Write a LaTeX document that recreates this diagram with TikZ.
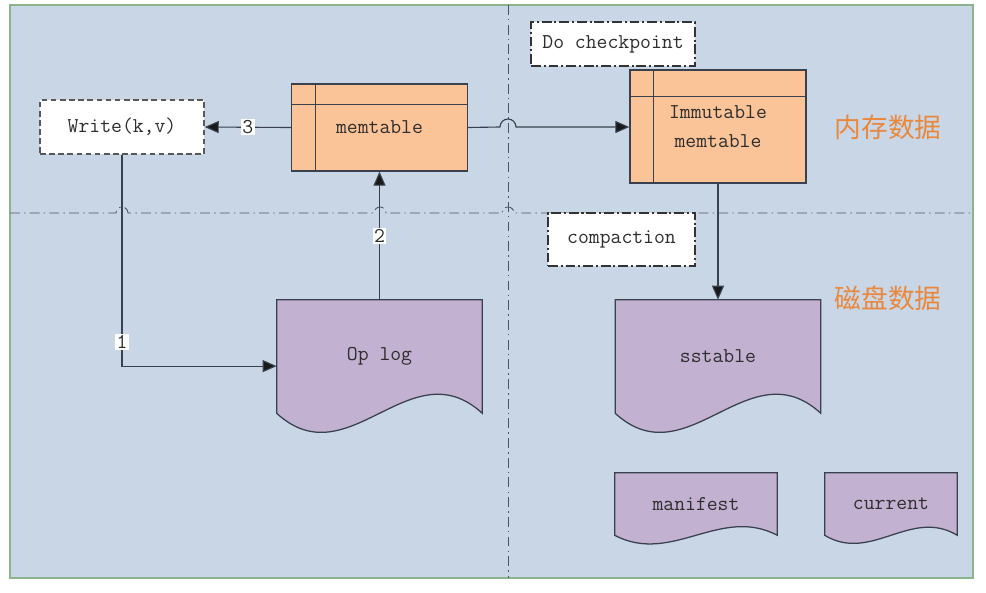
\documentclass[tikz,border=0pt]{standalone}
\usepackage{fontspec}
\newfontfamily\zhfont{Noto Sans CJK SC}
\usepackage{xcolor}
\usepackage{tikz}
\usetikzlibrary{
    arrows.meta,
    calc,
    backgrounds
}

\definecolor{framebg}{HTML}{C9D6E6}
\definecolor{frameline}{HTML}{8DB38D}
\definecolor{memfill}{HTML}{FAC498}
\definecolor{diskfill}{HTML}{C3B1D1}
\definecolor{inkline}{HTML}{38414D}
\definecolor{zhorange}{HTML}{E9883D}
\definecolor{txtgray}{HTML}{2E2E2E}

\newcommand{\docoutline}[2]{%
  \filldraw[docshape] (#1.south west) -- (#1.north west) -- (#1.north east) -- (#1.south east)
    .. controls ($(#1.south east)!0.35!(#1.south west)+(0,-#2)$)
    and ($(#1.south east)!0.65!(#1.south west)+(0,#2)$) .. (#1.south west) -- cycle;
}
\newcommand{\tablelines}[3]{%
  \draw[tabline] ([yshift=-#2]#1.north west) -- ([yshift=-#2]#1.north east);
  \draw[tabline] ([xshift=#3]#1.north west) -- ([xshift=#3]#1.south west);
}

\begin{document}
\begin{tikzpicture}[
      x=0.025cm, y=-0.025cm,
      font=\ttfamily\fontsize{15}{18}\selectfont,
      memtbl/.style={draw=inkline, fill=memfill, line width=0.9pt, align=center, text=txtgray, inner sep=0pt},
      diskdoc/.style={inner sep=0pt, align=center, text=txtgray},
      docshape/.style={fill=diskfill, draw=inkline, line width=0.9pt},
      tabline/.style={draw=inkline, line width=0.9pt},
      notebox/.style={draw=black!80, fill=white, line width=1.3pt, inner sep=0pt, text=txtgray,
        dash pattern=on 7pt off 2pt on 1.5pt off 2pt},
      inputbox/.style={draw=black!65, fill=white, line width=1pt, inner sep=0pt, text=txtgray,
        dash pattern=on 4pt off 2.5pt},
      zhlabel/.style={font=\zhfont\fontsize{19}{22}\selectfont, text=zhorange},
      num/.style={fill=white, inner sep=1pt, text=txtgray},
      arrow/.style={-{Triangle[length=0.35cm, width=0.3cm, fill=black!90]}, draw=inkline, line width=0.8pt},
      divider/.style={draw=inkline!90, line width=0.6pt, dash pattern=on 7pt off 3pt on 1pt off 3pt}
    ]
    \useasboundingbox (0,0) rectangle (986,592);

    \node[inputbox, minimum width=4.1cm, minimum height=1.35cm] (write) at (122,127) {Write(k,v)};
    \node[memtbl, minimum width=4.4cm, minimum height=2.175cm] (mem) at (379.5,127.5) {memtable};
    \node[memtbl, minimum width=4.4cm, minimum height=2.825cm,
      font=\ttfamily\fontsize{15}{21}\selectfont] (imm) at (718,126.5) {Immutable\\memtable};
    \node[notebox, minimum width=4.1cm, minimum height=1.1cm] (ckpt) at (613,44) {Do checkpoint};
    \node[notebox, minimum width=3.675cm, minimum height=1.325cm] (compact) at (621.5,239.5) {compaction};

    \node[diskdoc, minimum width=5.125cm, minimum height=2.825cm] (oplog) at (379.5,356.5) {Op log};
    \node[diskdoc, minimum width=5.125cm, minimum height=2.825cm] (sst) at (718,356.5) {sstable};
    \node[diskdoc, minimum width=4.05cm, minimum height=1.55cm] (manifest) at (696,504) {manifest};
    \node[diskdoc, minimum width=3.3cm, minimum height=1.55cm] (current) at (891,504) {current};

    \node[zhlabel] (memzone) at (888,127) {内存数据};
    \node[zhlabel] (diskzone) at (888,298) {磁盘数据};

    \tablelines{mem}{0.525cm}{0.625cm}
    \tablelines{imm}{0.675cm}{0.6cm}

    \begin{scope}[on background layer]
      \filldraw[fill=framebg, draw=frameline, line width=2pt] (10,5) rectangle (973,578);
      \draw[divider] (10,213) -- (116,213) arc[start angle=180, end angle=0, radius=0.15cm]
        -- (374,213) arc[start angle=180, end angle=0, radius=0.15cm]
        -- (502,213) arc[start angle=180, end angle=0, radius=0.15cm] -- (973,213);
      \draw[divider] (508,5) -- (508,578);
      \docoutline{oplog}{66}
      \docoutline{sst}{66}
      \docoutline{manifest}{30}
      \docoutline{current}{28}
    \end{scope}

    \coordinate (hop) at (500,127);
    \draw[arrow] (mem.west) -- node[num] {3} (write.east);
    \draw[arrow] (write.south) |- node[num, pos=0.443] {1} ([yshift=-0.24cm]oplog.west);
    \draw[arrow] (oplog.north) -- node[num] {2} (mem.south);
    \draw[arrow] (mem.east) -- (hop) arc[start angle=180, end angle=0, radius=0.2cm] -- (imm.west |- hop);
    \draw[arrow] (imm.south) -- (sst.north);
  \end{tikzpicture}
\end{document}
